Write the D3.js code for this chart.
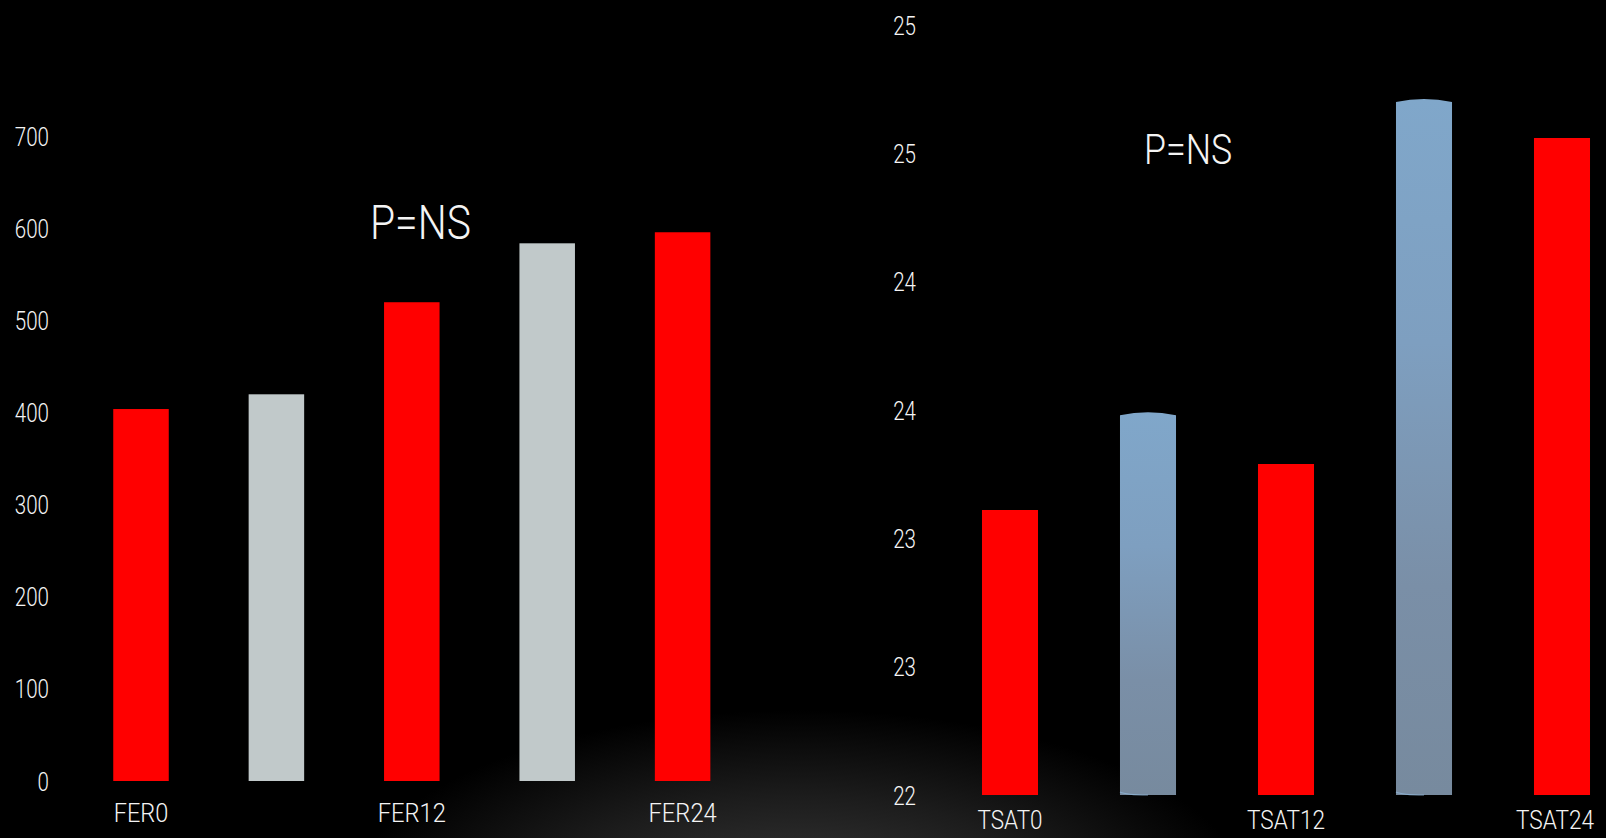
<!DOCTYPE html>
<html>
<head>
<meta charset="utf-8">
<script src="https://cdn.jsdelivr.net/npm/d3@7"></script>
<style>
  html, body { margin: 0; padding: 0; background: #000; }
  svg { display: block; }
  text { font-family: "Roboto", "DejaVu Sans Condensed", sans-serif; font-weight: 300; fill: #f4f4f4; }
</style>
</head>
<body>
<svg id="chart" width="1606" height="838"></svg>
<script>
// ---- data ----
const ferCategories = ["FER0", "", "FER12", "", "FER24"];
const ferValues = [404, 420, 520, 584, 596];
const ferTicks = [0, 100, 200, 300, 400, 500, 600, 700];
const ferTickLabels = ["0", "100", "200", "300", "400", "500", "600", "700"];

const tsatCategories = ["TSAT0", "", "TSAT12", "", "TSAT24"];
const tsatValues = [23.11, 23.48, 23.29, 24.70, 24.56];
const tsatTicks = [22, 22.5, 23, 23.5, 24, 24.5, 25];
const tsatTickLabels = ["22", "23", "23", "24", "24", "25", "25"];

const barKinds = ["red", "alt", "red", "alt", "red"];
const annotation = "P=NS";

// ---- drawing ----
const svg = d3.select("#chart");
const W = 1606, H = 838;
const defs = svg.append("defs");

const glow = defs.append("radialGradient").attr("id", "glow")
  .attr("cx", 0.5).attr("cy", 0.5).attr("r", 0.5);
glow.append("stop").attr("offset", "0%").attr("stop-color", "#3a3a3a");
glow.append("stop").attr("offset", "55%").attr("stop-color", "#1c1c1c");
glow.append("stop").attr("offset", "100%").attr("stop-color", "#000");

const blue = defs.append("linearGradient").attr("id", "blueGrad")
  .attr("x1", 0).attr("y1", 0).attr("x2", 0).attr("y2", 1);
blue.append("stop").attr("offset", "0%").attr("stop-color", "#80a7ca");
blue.append("stop").attr("offset", "35%").attr("stop-color", "#7e9fc0");
blue.append("stop").attr("offset", "70%").attr("stop-color", "#7a8fa7");
blue.append("stop").attr("offset", "100%").attr("stop-color", "#778a9e");

svg.append("rect").attr("width", W).attr("height", H).attr("fill", "#000");
svg.append("ellipse").attr("cx", 800).attr("cy", 900).attr("rx", 450).attr("ry", 190)
  .attr("fill", "url(#glow)");

// squeeze a text to the narrow width of the reference's condensed face
function fitWidth(sel, emWidthPerChar) {
  sel.each(function () {
    const t = d3.select(this);
    const txt = t.text();
    if (!txt) return;
    const fs = parseFloat(t.style("font-size"));
    const target = emWidthPerChar * fs * txt.length;
    const w = this.getComputedTextLength();
    if (Math.abs(w - target) > target * 0.03) {
      t.attr("textLength", target).attr("lengthAdjust", "spacingAndGlyphs");
    }
  });
}

// Left chart: FER
const xL = d3.scaleBand().domain(d3.range(ferCategories.length))
  .range([73.3, 750.3]).paddingInner(0.59).paddingOuter(0.295);
const yL = d3.scaleLinear().domain([0, 700]).range([781, 136.5]);

const gL = svg.append("g");
gL.selectAll("rect.bar").data(ferValues).join("rect")
  .attr("class", "bar")
  .attr("x", (d, i) => xL(i))
  .attr("width", xL.bandwidth())
  .attr("y", d => yL(d))
  .attr("height", d => yL(0) - yL(d))
  .attr("fill", (d, i) => barKinds[i] === "red" ? "#ff0000" : "#c1c9ca");

const axL = svg.append("g").attr("transform", "translate(49,0)")
  .call(d3.axisLeft(yL).tickValues(ferTicks)
    .tickFormat((d, i) => ferTickLabels[i]).tickSize(0).tickPadding(0));
axL.select(".domain").remove();
axL.selectAll("text").style("font-size", "25px").attr("fill", "#f4f4f4")
  .style("font-family", null).attr("dy", "0.36em");
fitWidth(axL.selectAll("text"), 0.456);

const axLx = svg.append("g").attr("transform", "translate(0,821.7)")
  .call(d3.axisBottom(xL).tickFormat(i => ferCategories[i]).tickSize(0).tickPadding(0));
axLx.select(".domain").remove();
axLx.selectAll("text").style("font-size", "26px").attr("fill", "#f4f4f4")
  .style("font-family", null).attr("y", 0).attr("dy", 0);
fitWidth(axLx.selectAll("text"), 0.525);

const annL = svg.append("text").attr("x", 370).attr("y", 239).style("font-size", "48px")
  .text(annotation);
fitWidth(annL, 0.525);

// Right chart: TSAT
const xR = d3.scaleBand().domain(d3.range(tsatCategories.length))
  .range([941, 1631]).paddingInner(0.594).paddingOuter(0.297);
const yR = d3.scaleLinear().domain([22, 25]).range([795, 25]);

const gR = svg.append("g");
const bw = xR.bandwidth();
gR.selectAll("path.bar").data(tsatValues).join("path")
  .attr("class", "bar")
  .attr("d", (d, i) => {
    const x0 = xR(i), x1 = x0 + bw, yt = yR(d), yb = yR(22);
    if (barKinds[i] === "red") {
      return `M${x0},${yb}V${yt}H${x1}V${yb}Z`;
    }
    return `M${x0},${yb}V${yt}Q${x0 + bw / 2},${yt - 6} ${x1},${yt}V${yb}Z`;
  })
  .attr("fill", (d, i) => barKinds[i] === "red" ? "#ff0000" : "url(#blueGrad)");

// light rim at the base of the cylinder bars
const altIdx = d3.range(tsatValues.length).filter(i => barKinds[i] !== "red");
gR.selectAll("path.rim").data(altIdx)
  .join("path").attr("class", "rim")
  .attr("d", i => {
    const x0 = xR(i), yb = yR(22);
    return `M${x0},${yb - 3}Q${x0 + 6},${yb} ${x0 + bw / 2},${yb}`;
  })
  .attr("fill", "none").attr("stroke", "#8fb4d6").attr("stroke-width", 1.2).attr("opacity", 0.8);

const axR = svg.append("g").attr("transform", "translate(916,0)")
  .call(d3.axisLeft(yR).tickValues(tsatTicks)
    .tickFormat((d, i) => tsatTickLabels[i]).tickSize(0).tickPadding(0));
axR.select(".domain").remove();
axR.selectAll("text").style("font-size", "25px").attr("fill", "#f4f4f4")
  .style("font-family", null).attr("dy", "0.36em");
fitWidth(axR.selectAll("text"), 0.456);

const axRx = svg.append("g").attr("transform", "translate(0,829)")
  .call(d3.axisBottom(xR).tickFormat(i => tsatCategories[i]).tickSize(0).tickPadding(0));
axRx.select(".domain").remove();
axRx.selectAll("text").style("font-size", "26px").attr("fill", "#f4f4f4")
  .style("font-family", null).attr("y", 0).attr("dy", 0);
fitWidth(axRx.selectAll("text"), 0.5);
// the last label sits against the right edge: anchor it at its end so it stays inside
axRx.selectAll(".tick").each(function (i) {
  const cx = xR(i) + bw / 2;
  const t = d3.select(this).select("text");
  const half = 0.5 * 26 * tsatCategories[i].length / 2;
  if (cx + half > W - 12) {
    t.attr("text-anchor", "end").attr("x", (W - 12) - cx);
  }
});

const annR = svg.append("text").attr("x", 1144).attr("y", 164).style("font-size", "42px")
  .text(annotation);
fitWidth(annR, 0.525);
</script>
</body>
</html>
